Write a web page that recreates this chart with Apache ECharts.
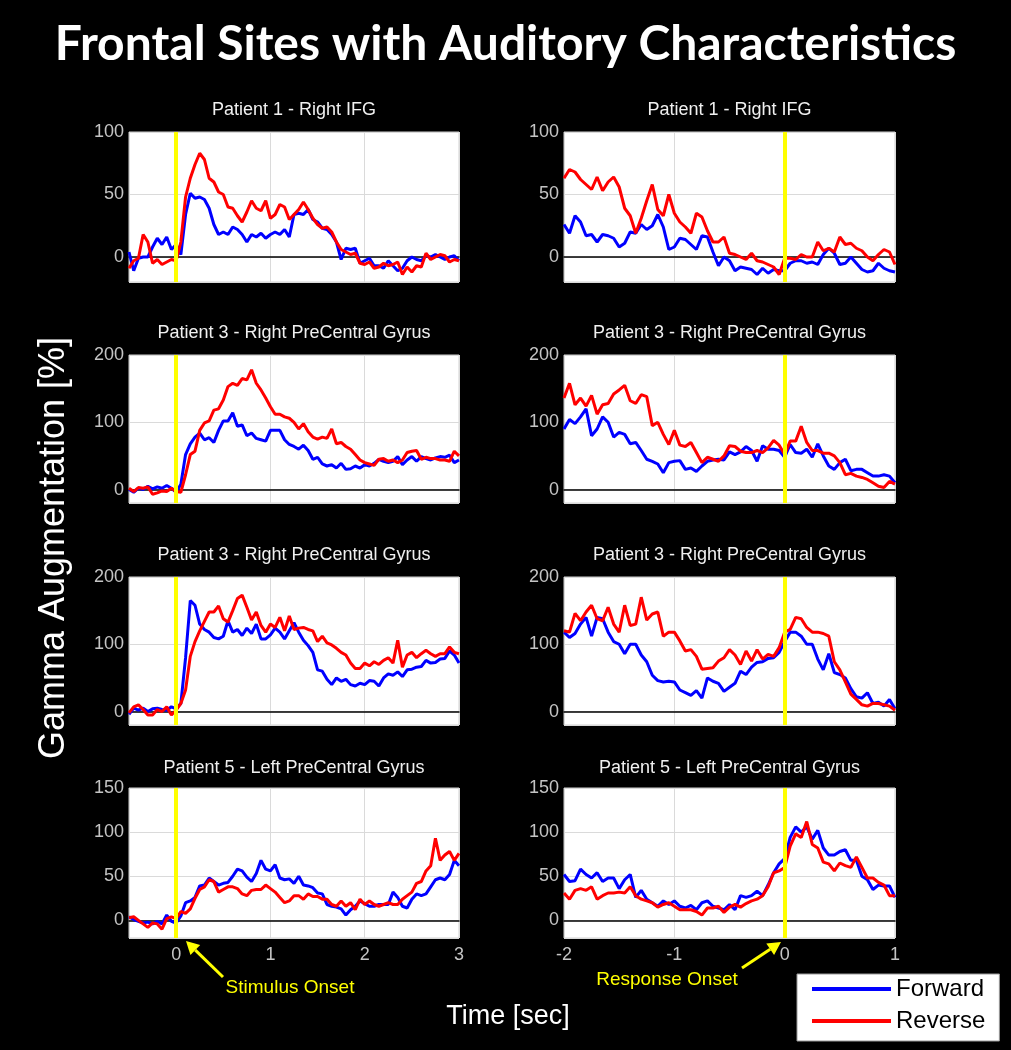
<!DOCTYPE html>
<html>
<head>
<meta charset="utf-8">
<script src="https://cdn.jsdelivr.net/npm/echarts@6/dist/echarts.min.js"></script>
<style>
  html, body {margin: 0; padding: 0; background: #000;}
  #chart {width: 1011px; height: 1050px;}
</style>
</head>
<body>
<div id="chart"></div>
<script>
// time bases (sec), sampled every 50 ms
function timeAxis(start, count) {
  const out = [];
  for (let i = 0; i < count; i++) out.push(+(start + i * 0.05).toFixed(2));
  return out;
}
const timeStim = timeAxis(-0.5, 71);   // -0.5 .. 3 s, stimulus locked
const timeResp = timeAxis(-2, 61);     // -2 .. 1 s, response locked

// Patient 1 - Right IFG
const stim1Fwd = [4, -11, -1, 0, 0, 8, 15, 10, 16, 6,
  10, 2, 34, 51, 47, 48, 46, 39, 26, 18,
  20, 18, 24, 22, 18, 12, 18, 16, 19, 15,
  18, 20, 18, 22, 16, 34, 35, 34, 38, 30,
  28, 23, 22, 18, 12, -2, 7, 6, 7, -5,
  -3, -1, -7, -7, -9, -3, -7, -11, -9, -3,
  0, -2, -3, 1, 0, 2, 0, -2, 0, 1, -3];
const stim1Rev = [-9, -3, -1, 18, 12, -5, -2, -6, -4, -2,
  -3, 12, 48, 63, 74, 83, 78, 63, 60, 52,
  50, 40, 39, 33, 28, 36, 45, 39, 37, 45,
  31, 34, 42, 40, 30, 34, 38, 44, 38, 31,
  26, 23, 24, 20, 12, 6, 4, 2, 3, -5,
  -6, -4, -9, -8, -5, -7, -6, -4, -14, -8,
  -12, -7, -8, 3, -2, 0, 2, 1, -4, -2, -3];
const resp1Fwd = [26, 19, 33, 28, 17, 18, 12, 18, 17, 15,
  8, 11, 20, 19, 26, 22, 25, 34, 24, 6,
  8, 15, 14, 10, 6, 17, 16, 4, -7, 0,
  -3, -11, -8, -9, -10, -14, -9, -13, -10, -11,
  -11, -5, -3, -3, -5, -4, -6, 2, 7, 3,
  -6, -5, 0, -5, -10, -12, -11, -5, -9, -11, -12];
const resp1Rev = [63, 70, 68, 62, 58, 54, 64, 53, 60, 64,
  56, 39, 33, 19, 31, 45, 58, 38, 33, 50,
  35, 28, 24, 19, 35, 32, 21, 12, 12, 16,
  3, 2, 0, -2, 3, -3, -4, -6, -8, -14,
  -1, -1, -2, 2, 0, 0, 12, 5, 7, 4,
  16, 10, 11, 7, 5, 0, -3, 2, 6, 4, -6];

// Patient 3 - Right PreCentral Gyrus (first site)
const stim3aFwd = [0, -4, 2, 0, 5, 1, 4, 2, 6, 2,
  -4, 8, 52, 68, 78, 84, 74, 77, 70, 88,
  102, 102, 114, 94, 96, 80, 84, 76, 74, 72,
  88, 88, 88, 74, 67, 64, 60, 66, 58, 45,
  48, 38, 35, 37, 32, 39, 30, 31, 35, 32,
  37, 35, 39, 45, 42, 40, 42, 49, 37, 44,
  49, 42, 49, 46, 44, 47, 49, 48, 51, 40, 44];
const stim3aRev = [2, -3, 3, 2, 4, -7, -5, -2, -3, 2,
  -3, -4, 22, 52, 57, 88, 99, 102, 118, 120,
  133, 153, 158, 155, 165, 163, 178, 158, 148, 136,
  123, 112, 112, 108, 106, 100, 90, 98, 86, 78,
  75, 78, 76, 90, 68, 70, 64, 60, 52, 44,
  40, 38, 36, 45, 46, 42, 44, 40, 44, 55,
  57, 58, 45, 48, 46, 46, 44, 44, 42, 57, 50];
const resp3aFwd = [90, 104, 98, 108, 120, 80, 90, 108, 100, 78,
  85, 82, 68, 70, 58, 45, 42, 38, 25, 40,
  42, 43, 30, 32, 27, 35, 42, 44, 45, 44,
  56, 52, 56, 64, 58, 42, 65, 60, 60, 58,
  48, 67, 55, 54, 60, 48, 68, 50, 35, 30,
  40, 45, 28, 30, 30, 25, 20, 20, 22, 20, 10];
const resp3aRev = [136, 158, 126, 136, 124, 140, 112, 126, 128, 142,
  148, 155, 132, 128, 141, 138, 95, 100, 82, 67,
  88, 66, 64, 70, 55, 40, 48, 45, 42, 50,
  65, 64, 57, 55, 55, 58, 55, 62, 73, 66,
  52, 72, 72, 94, 70, 58, 58, 54, 54, 50,
  40, 22, 24, 20, 18, 15, 10, 5, 3, 12, 8];

// Patient 3 - Right PreCentral Gyrus (second site)
const stim3bFwd = [-4, 5, 2, 5, 0, 4, 5, 3, 2, 7,
  4, 12, 80, 165, 158, 130, 122, 118, 110, 108,
  112, 135, 118, 122, 113, 124, 116, 130, 108, 108,
  114, 124, 118, 108, 120, 132, 118, 106, 98, 88,
  62, 60, 48, 40, 50, 45, 48, 40, 38, 42,
  40, 46, 45, 38, 50, 56, 54, 59, 52, 62,
  63, 66, 67, 76, 72, 73, 78, 79, 90, 84, 72];
const stim3bRev = [-2, 7, 10, 3, -5, -5, 3, 0, 7, -5,
  2, 12, 32, 82, 104, 120, 134, 148, 148, 157,
  138, 133, 150, 168, 173, 155, 136, 148, 128, 118,
  130, 125, 140, 120, 142, 122, 124, 125, 122, 120,
  104, 112, 102, 99, 94, 88, 84, 72, 64, 64,
  72, 68, 74, 70, 76, 80, 72, 106, 66, 84,
  88, 80, 86, 91, 86, 82, 86, 86, 96, 88, 86];
const resp3bFwd = [118, 110, 116, 130, 140, 112, 140, 138, 118, 104,
  100, 86, 100, 100, 84, 74, 54, 46, 44, 45,
  44, 32, 28, 24, 31, 20, 50, 45, 42, 30,
  36, 42, 60, 55, 66, 73, 74, 79, 80, 88,
  104, 118, 118, 112, 100, 100, 78, 62, 86, 58,
  55, 50, 34, 22, 20, 28, 12, 14, 8, 18, 4];
const resp3bRev = [120, 118, 146, 135, 148, 158, 138, 135, 155, 130,
  118, 158, 128, 130, 170, 136, 145, 148, 112, 118,
  118, 105, 90, 92, 82, 63, 64, 65, 75, 80,
  92, 84, 70, 90, 75, 92, 78, 85, 82, 95,
  118, 122, 140, 138, 125, 118, 118, 116, 112, 74,
  62, 44, 26, 18, 10, 8, 12, 12, 10, 8, 2];

// Patient 5 - Left PreCentral Gyrus
const stim5Fwd = [4, 1, -1, -3, -2, -4, -1, -4, 6, -1,
  -3, 5, 20, 22, 26, 39, 40, 48, 44, 40,
  42, 43, 50, 58, 56, 49, 44, 53, 68, 58,
  56, 63, 48, 46, 47, 42, 50, 40, 39, 37,
  31, 30, 18, 16, 15, 13, 6, 12, 16, 22,
  19, 16, 16, 18, 18, 18, 32, 26, 16, 14,
  24, 30, 28, 30, 38, 46, 48, 46, 52, 68, 62];
const stim5Rev = [3, 4, 0, -4, -8, -3, -4, -10, 2, 4,
  2, 10, 8, 13, 25, 35, 38, 46, 44, 32,
  35, 38, 38, 36, 30, 28, 34, 35, 35, 40,
  36, 32, 26, 20, 22, 28, 28, 24, 30, 27,
  27, 24, 24, 18, 16, 22, 16, 20, 12, 24,
  18, 22, 18, 16, 18, 20, 18, 18, 24, 28,
  32, 42, 44, 56, 62, 93, 68, 74, 78, 68, 76];
const resp5Fwd = [52, 44, 45, 58, 52, 48, 54, 44, 48, 48,
  36, 46, 52, 26, 34, 24, 20, 16, 22, 18,
  22, 16, 14, 17, 12, 20, 22, 16, 14, 12,
  18, 12, 28, 26, 28, 33, 28, 40, 54, 64,
  70, 94, 106, 100, 106, 92, 102, 82, 74, 74,
  78, 80, 68, 68, 50, 46, 35, 40, 39, 39, 26];
const resp5Rev = [31, 24, 34, 36, 34, 38, 24, 28, 31, 31,
  32, 31, 38, 28, 24, 22, 20, 15, 18, 20,
  16, 12, 12, 12, 10, 6, 14, 14, 16, 9,
  15, 18, 15, 19, 22, 24, 28, 38, 54, 56,
  60, 84, 98, 94, 112, 86, 82, 66, 64, 56,
  65, 62, 60, 72, 60, 48, 48, 43, 40, 28, 28];

const panelTitles = ['Patient 1 - Right IFG', 'Patient 3 - Right PreCentral Gyrus',
  'Patient 3 - Right PreCentral Gyrus', 'Patient 5 - Left PreCentral Gyrus'];
const yMaxByRow = [100, 200, 200, 150];
const yMin = -20;

const panels = [
  {row: 0, col: 0, time: timeStim, fwd: stim1Fwd, rev: stim1Rev},
  {row: 0, col: 1, time: timeResp, fwd: resp1Fwd, rev: resp1Rev},
  {row: 1, col: 0, time: timeStim, fwd: stim3aFwd, rev: stim3aRev},
  {row: 1, col: 1, time: timeResp, fwd: resp3aFwd, rev: resp3aRev},
  {row: 2, col: 0, time: timeStim, fwd: stim3bFwd, rev: stim3bRev},
  {row: 2, col: 1, time: timeResp, fwd: resp3bFwd, rev: resp3bRev},
  {row: 3, col: 0, time: timeStim, fwd: stim5Fwd, rev: stim5Rev},
  {row: 3, col: 1, time: timeResp, fwd: resp5Fwd, rev: resp5Rev}
];

// layout
const FONT = "'Liberation Sans', Arial, Helvetica, sans-serif";
const colLeft = [129, 564];
const colWidth = [330, 331];
const rowTop = [132, 355, 577, 788];
const rowHeight = [150, 148, 148, 150];
const ySplit = [2, 2, 2, 3];
const titleTop = [101, 324, 546, 759];
const tickColor = '#c4c4c4';
const gridColor = '#dadada';

const grids = [], xAxes = [], yAxes = [], series = [];
const titles = [{
  text: 'Frontal Sites with Auditory Characteristics',
  left: 'center', top: 21, padding: 0,
  textStyle: {color: '#fff', fontSize: 48, fontWeight: 'bold', fontFamily: 'Lato'}
}];

panels.forEach((p, k) => {
  const left = colLeft[p.col], width = colWidth[p.col];
  const xMin = p.time[0], xMax = p.time[p.time.length - 1];
  grids.push({
    left: left, top: rowTop[p.row], width: width, height: rowHeight[p.row],
    show: true, backgroundColor: '#fff', borderColor: '#d0d0d0', borderWidth: 1
  });
  titles.push({
    text: panelTitles[p.row], left: left + width / 2, top: titleTop[p.row],
    textAlign: 'center', padding: 0,
    textStyle: {color: '#f0f0f0', fontSize: 18, fontWeight: 'normal', fontFamily: FONT}
  });
  // data axis, its line doubles as the black zero line
  xAxes.push({
    gridIndex: k, type: 'value', min: xMin, max: xMax, splitNumber: 3, position: 'bottom', z: 1,
    axisLine: {show: true, onZero: true, lineStyle: {color: '#000', width: 1.5}},
    axisTick: {show: false},
    axisLabel: {show: false},
    splitLine: {show: true, lineStyle: {color: gridColor, width: 1}}
  });
  yAxes.push({
    gridIndex: k, type: 'value', min: yMin, max: yMaxByRow[p.row], splitNumber: ySplit[p.row],
    axisLine: {show: false}, axisTick: {show: false},
    splitLine: {show: true, lineStyle: {color: gridColor, width: 1}},
    axisLabel: {showMinLabel: false, color: tickColor, fontSize: 18, fontFamily: FONT, margin: 5}
  });
  series.push({
    name: 'Forward', type: 'line', xAxisIndex: k, yAxisIndex: k,
    data: p.time.map((t, i) => [t, p.fwd[i]]),
    showSymbol: false, symbol: 'none', silent: true, z: 2,
    lineStyle: {color: '#0000ff', width: 3}, itemStyle: {color: '#0000ff'}
  });
  series.push({
    name: 'Reverse', type: 'line', xAxisIndex: k, yAxisIndex: k,
    data: p.time.map((t, i) => [t, p.rev[i]]),
    showSymbol: false, symbol: 'none', silent: true, z: 3,
    lineStyle: {color: '#ff0000', width: 3}, itemStyle: {color: '#ff0000'},
    markLine: {
      silent: true, symbol: 'none', label: {show: false},
      lineStyle: {color: '#ffff00', width: 4, type: 'solid'},
      data: [{xAxis: 0}]
    }
  });
});

// tick labels for the bottom row sit on their own axes
panels.forEach((p, k) => {
  if (p.row !== 3) return;
  xAxes.push({
    gridIndex: k, type: 'value', min: p.time[0], max: p.time[p.time.length - 1], splitNumber: 3,
    position: 'bottom',
    axisLine: {show: false, onZero: false}, axisTick: {show: false}, splitLine: {show: false},
    axisLabel: {showMinLabel: p.col === 1, color: tickColor, fontSize: 18, fontFamily: FONT, margin: 8}
  });
});

function arrow(tail, tip) {
  const dx = tip[0] - tail[0], dy = tip[1] - tail[1];
  const len = Math.sqrt(dx * dx + dy * dy);
  const ux = dx / len, uy = dy / len;
  const bx = tip[0] - ux * 13, by = tip[1] - uy * 13;
  const nx = -uy * 7, ny = ux * 7;
  return [
    {type: 'line', shape: {x1: tail[0], y1: tail[1], x2: bx, y2: by}, style: {stroke: '#ffff00', lineWidth: 3}},
    {type: 'polygon', shape: {points: [tip, [bx + nx, by + ny], [bx - nx, by - ny]]}, style: {fill: '#ffff00'}}
  ];
}

const graphics = [
  {type: 'text', x: 54, y: 548, rotation: Math.PI / 2,
    style: {text: 'Gamma Augmentation [%]', fill: '#fff', font: '36px ' + FONT, textAlign: 'center', textVerticalAlign: 'middle'}},
  {type: 'text', x: 508, y: 1017,
    style: {text: 'Time [sec]', fill: '#fff', font: '27px ' + FONT, textAlign: 'center', textVerticalAlign: 'middle'}},
  {type: 'text', x: 290, y: 988,
    style: {text: 'Stimulus Onset', fill: '#ffff00', font: '19px ' + FONT, textAlign: 'center', textVerticalAlign: 'middle'}},
  {type: 'text', x: 667, y: 980,
    style: {text: 'Response Onset', fill: '#ffff00', font: '19px ' + FONT, textAlign: 'center', textVerticalAlign: 'middle'}}
].concat(arrow([223, 977], [186, 941]), arrow([742, 968], [781, 942]));

const chart = echarts.init(document.getElementById('chart'), null, {renderer: 'canvas'});
chart.setOption({
  backgroundColor: '#000',
  animation: false,
  title: titles,
  grid: grids,
  xAxis: xAxes,
  yAxis: yAxes,
  series: series,
  legend: {
    data: ['Forward', 'Reverse'], orient: 'vertical', left: 797, top: 974,
    backgroundColor: '#fff', borderColor: '#9a9a9a', borderWidth: 1,
    padding: [3, 14, 8, 15], itemWidth: 79, itemHeight: 4, itemGap: 8, icon: 'rect',
    selectedMode: false,
    textStyle: {color: '#000', fontSize: 24, fontFamily: FONT}
  },
  graphic: graphics
});
</script>
</body>
</html>
